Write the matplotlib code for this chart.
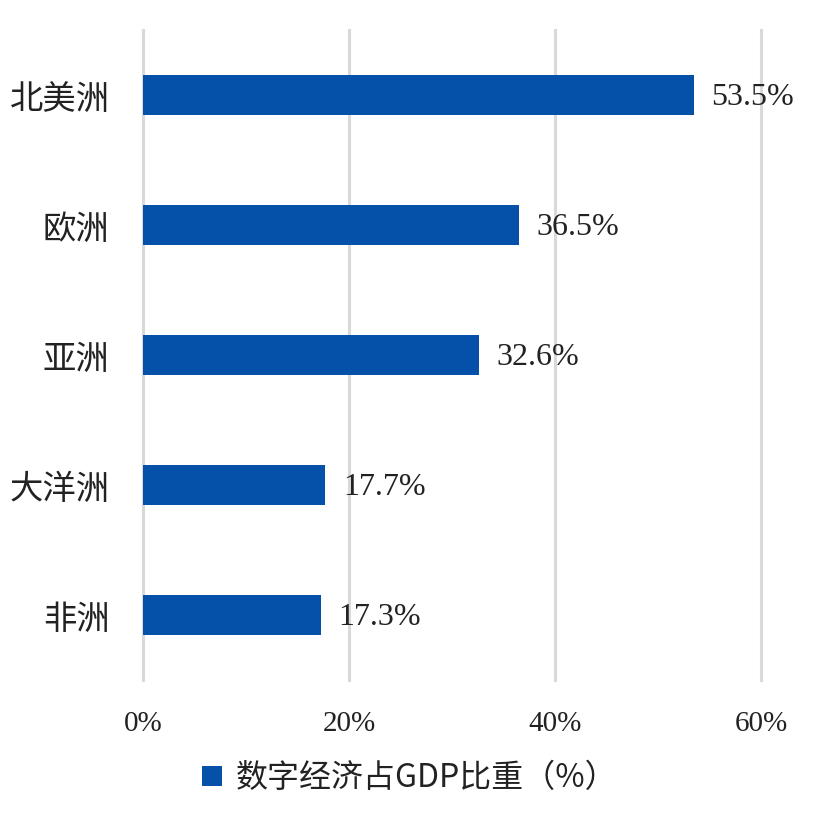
import matplotlib
matplotlib.use("Agg")
import matplotlib.pyplot as plt
from matplotlib.ticker import FuncFormatter

plt.rcParams['font.family'] = ['Liberation Serif', 'Noto Sans CJK SC', 'DejaVu Sans']

regions = ["北美洲", "欧洲", "亚洲", "大洋洲", "非洲"]
share = [53.5, 36.5, 32.6, 17.7, 17.3]
xticks = [0, 20, 40, 60]
series_name = "数字经济占GDP比重（%）"

bar_color = "#0550a8"

fig = plt.figure(figsize=(8.22, 8.13), dpi=100)
ax = fig.add_axes([143 / 822, 1 - 680 / 813, (761 - 143) / 822, 650 / 813])

ypos = list(range(len(regions)))[::-1]
ax.barh(ypos, share, height=0.31, color=bar_color, label=series_name, zorder=3)

for y, v in zip(ypos, share):
    ax.text(v + 1.7, y - 0.02, f"{v:.1f}%", va="center", ha="left", fontsize=23,
            color="#222222", family=['Liberation Serif', 'Noto Sans CJK SC'])

ax.set_xlim(0, 60)
ax.set_ylim(-0.5, len(regions) - 0.5)
ax.set_xticks(xticks)
ax.xaxis.set_major_formatter(FuncFormatter(lambda x, p: f"{x:.0f}%"))
ax.set_yticks(ypos)
ax.set_yticklabels(regions, family=['Noto Sans CJK SC'], fontsize=24, color="#222222")
ax.tick_params(axis="x", labelsize=21, colors="#222222", length=0, pad=22)
ax.tick_params(axis="y", length=0, pad=24)
ax.grid(axis="x", color="#d9d9d9", linewidth=2.2, zorder=0)
for gl in ax.get_xgridlines():
    gl.set_clip_on(False)
for s in ax.spines.values():
    s.set_visible(False)

handles, labels = ax.get_legend_handles_labels()
leg = fig.legend(handles, labels, loc="center", bbox_to_anchor=(410 / 822, 1 - 778 / 813),
                 frameon=False, handlelength=0.6, handleheight=0.6, handletextpad=0.45,
                 prop={'family': ['Noto Sans CJK SC'], 'size': 23})
for t in leg.get_texts():
    t.set_color("#222222")

fig.savefig("out.png", dpi=100)
